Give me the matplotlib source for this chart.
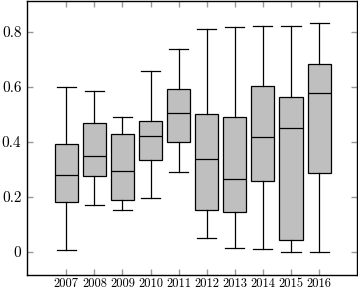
import matplotlib.pyplot as plt

years = [2007, 2008, 2009, 2010, 2011, 2012, 2013, 2014, 2015, 2016]
lower_whisker = [0.008, 0.170, 0.154, 0.195, 0.290, 0.052, 0.013, 0.010, 0.001, 0.001]
q1 = [0.181, 0.275, 0.188, 0.333, 0.401, 0.154, 0.145, 0.259, 0.043, 0.288]
median = [0.281, 0.349, 0.296, 0.421, 0.507, 0.337, 0.265, 0.419, 0.450, 0.579]
q3 = [0.393, 0.470, 0.428, 0.475, 0.592, 0.501, 0.490, 0.605, 0.565, 0.683]
upper_whisker = [0.600, 0.587, 0.490, 0.659, 0.737, 0.812, 0.817, 0.823, 0.821, 0.833]

y_ticks = [0, 0.2, 0.4, 0.6, 0.8]
y_labels = ['0', '0.2', '0.4', '0.6', '0.8']

plt.rcParams['font.family'] = ['cmr10', 'DejaVu Serif']
plt.rcParams['axes.formatter.use_mathtext'] = True

fig = plt.figure(figsize=(3.58, 2.89), dpi=100)
ax = fig.add_axes([27 / 358, 14 / 289, 330 / 358, 274 / 289])

stats = []
for i in range(len(years)):
    stats.append({
        'whislo': lower_whisker[i], 'q1': q1[i], 'med': median[i],
        'q3': q3[i], 'whishi': upper_whisker[i], 'fliers': [],
    })

line = dict(color='black', linewidth=0.9)
ax.bxp(stats, positions=years, widths=0.82, capwidths=0.68,
       patch_artist=True, showfliers=False,
       boxprops=dict(facecolor='#bfbfbf', edgecolor='black', linewidth=0.9),
       medianprops=line, whiskerprops=line, capprops=line)

ax.set_xlim(2005.6, 2017.35)
ax.set_ylim(-0.084, 0.913)
ax.set_xticks(years)
ax.set_xticklabels([str(y) for y in years], fontsize=9)
ax.set_yticks(y_ticks)
ax.set_yticklabels(y_labels, fontsize=11)

ax.tick_params(direction='in', length=4, color='#999999', width=1,
               top=True, right=True, pad=4)
ax.tick_params(axis='x', pad=2)
for s in ax.spines.values():
    s.set_linewidth(1)

fig.savefig('out.png', dpi=100)
